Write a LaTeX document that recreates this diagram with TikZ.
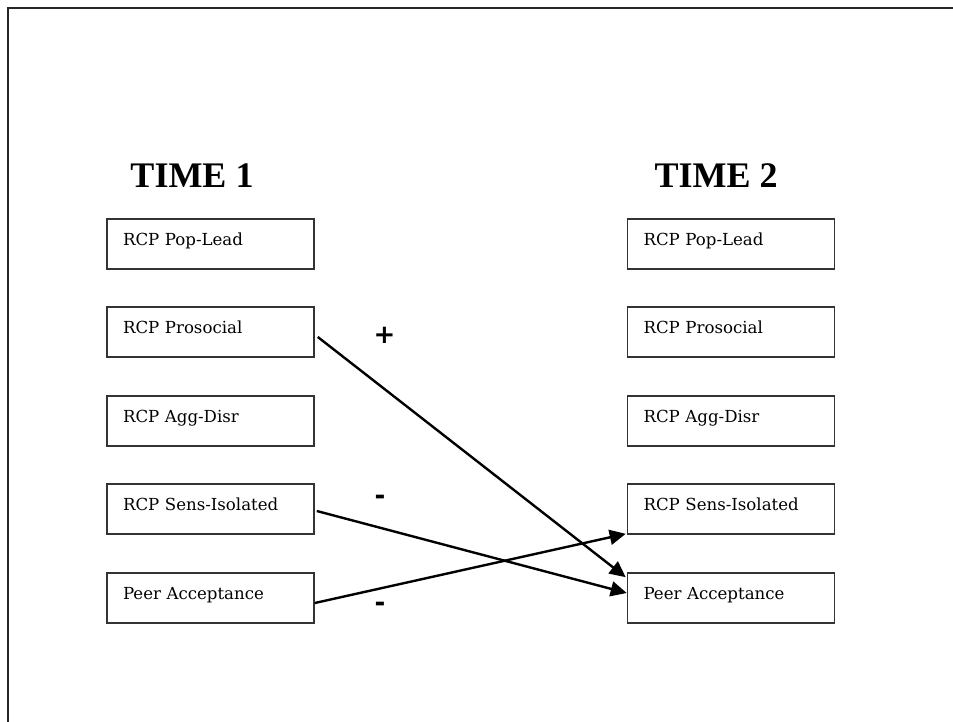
\documentclass[tikz,border=0pt]{standalone}
\usepackage{fontspec}
\usetikzlibrary{arrows.meta}
\newfontfamily\boxfont{DejaVu Serif}
\newfontfamily\headfont{Liberation Serif}
\newfontfamily\signfont{DejaVu Sans}
\begin{document}
\begin{tikzpicture}[x=1pt,y=-1pt,
  varbox/.style={draw=black!80, line width=1.6pt, rectangle, minimum height=50pt,
    text width=175pt, inner xsep=16pt, inner ysep=0pt, align=left,
    text height=12pt, text depth=10pt, font=\boxfont\fontsize{16.6}{19}\selectfont},
  head/.style={font=\headfont\bfseries\fontsize{36}{40}\selectfont, anchor=base, inner sep=0pt},
  sign/.style={font=\signfont\bfseries\fontsize{26}{30}\selectfont, inner sep=0pt},
  conn/.style={line width=2.4pt, -{Triangle[length=16pt,width=15pt]}}]
\useasboundingbox (0,0) rectangle (953,722);
% frame lines (top and left)
\coordinate (fa) at (953,8);
\coordinate (fb) at (8,8);
\coordinate (fc) at (8,722);
\draw[line width=1.3pt, black!85] (fa) -- (fb) -- (fc);
% headings
\node[head] (t1) at (192,188) {TIME 1};
\node[head] (t2) at (716,188) {TIME 2};
% left column
\node[varbox] (L1) at (210.5,244) {RCP Pop-Lead};
\node[varbox] (L2) at (210.5,332) {RCP Prosocial};
\node[varbox] (L3) at (210.5,421) {RCP Agg-Disr};
\node[varbox] (L4) at (210.5,509) {RCP Sens-Isolated};
\node[varbox] (L5) at (210.5,598) {Peer Acceptance};
% right column
\node[varbox] (R1) at (731,244) {RCP Pop-Lead};
\node[varbox] (R2) at (731,332) {RCP Prosocial};
\node[varbox] (R3) at (731,421) {RCP Agg-Disr};
\node[varbox] (R4) at (731,509) {RCP Sens-Isolated};
\node[varbox] (R5) at (731,598) {Peer Acceptance};
% connectors
\draw[conn] ([xshift=3pt,yshift=-5pt]L2.east) -- ([xshift=-1pt,yshift=-5pt]R5.north west);
\draw[conn] ([xshift=2pt,yshift=-2pt]L4.east) -- ([yshift=5pt]R5.west);
\draw[conn] ([yshift=-5pt]L5.east) -- ([xshift=-1pt,yshift=1pt]R4.south west);
% signs
\node[sign] (s1) at (384.5,335) {+};
\node[sign] (s2) at (380,500) {-};
\node[sign] (s3) at (380,607) {-};
\end{tikzpicture}
\end{document}
